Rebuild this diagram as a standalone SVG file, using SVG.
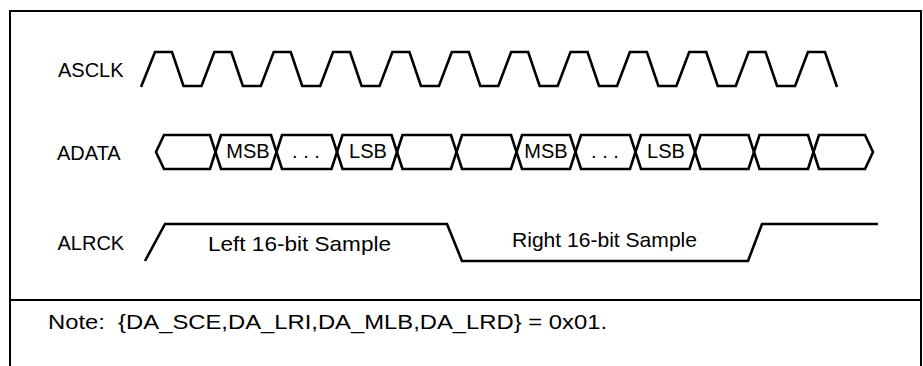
<svg xmlns="http://www.w3.org/2000/svg" width="923" height="366" viewBox="0 0 923 366">
<style>
.frame{fill:none;stroke:#000;stroke-width:2}
.wave{fill:none;stroke:#000;stroke-width:2.6;stroke-linejoin:miter;stroke-linecap:butt}
.lbl{font-family:"Liberation Sans",Arial,sans-serif;font-size:20px;fill:#000}
.cell{font-family:"Liberation Sans",Arial,sans-serif;font-size:20px;fill:#000;text-anchor:middle}
.smp{font-family:"Liberation Sans",Arial,sans-serif;font-size:21px;fill:#000}
.note{font-family:"Liberation Sans",Arial,sans-serif;font-size:20px;fill:#000}
</style>
<rect width="923" height="366" fill="#fff"/>
<g id="frame">
<path class="frame" d="M10,375 V11 H921 V375"/>
<line class="frame" x1="10" y1="300" x2="921" y2="300"/>
</g>
<g id="asclk">
<text class="lbl" x="58" y="77">ASCLK</text>
<path class="wave" d="M141,87 L155,52 L172,52 L183.5,86 L201.5,86 L214.36,52 L231.36,52 L242.86,86 L260.86,86 L273.72,52 L290.72,52 L302.22,86 L320.22,86 L333.08,52 L350.08,52 L361.58,86 L379.58,86 L392.44,52 L409.44,52 L420.94,86 L438.94,86 L451.8,52 L468.8,52 L480.3,86 L498.3,86 L511.16,52 L528.16,52 L539.66,86 L557.66,86 L570.52,52 L587.52,52 L599.02,86 L617.02,86 L629.88,52 L646.88,52 L658.38,86 L676.38,86 L689.24,52 L706.24,52 L717.74,86 L735.74,86 L748.6,52 L765.6,52 L777.1,86 L795.1,86 L807.96,52 L824.96,52 L837,87"/>
</g>
<g id="adata">
<text class="lbl" x="57" y="160">ADATA</text>
<polygon class="wave" points="156,152 164,135 210,135 215.5,152 210,169 164,169"/>
<polygon class="wave" points="215.5,152 221,135 271,135 276.5,152 271,169 221,169"/>
<polygon class="wave" points="276.5,152 282,135 331.5,135 337,152 331.5,169 282,169"/>
<polygon class="wave" points="337,152 342.5,135 391.5,135 397,152 391.5,169 342.5,169"/>
<polygon class="wave" points="397,152 402.5,135 451,135 456.5,152 451,169 402.5,169"/>
<polygon class="wave" points="456.5,152 462,135 511,135 516.5,152 511,169 462,169"/>
<polygon class="wave" points="516.5,152 522,135 570,135 575.5,152 570,169 522,169"/>
<polygon class="wave" points="575.5,152 581,135 630,135 635.5,152 630,169 581,169"/>
<polygon class="wave" points="635.5,152 641,135 689.5,135 695,152 689.5,169 641,169"/>
<polygon class="wave" points="695,152 700.5,135 748.5,135 754,152 748.5,169 700.5,169"/>
<polygon class="wave" points="754,152 759.5,135 808,135 813.5,152 808,169 759.5,169"/>
<polygon class="wave" points="813.5,152 819,135 865,135 873,152 865,169 819,169"/>
<text class="cell" x="248" y="158">MSB</text>
<text class="cell" x="306" y="158">. . .</text>
<text class="cell" x="368" y="158">LSB</text>
<text class="cell" x="546" y="158">MSB</text>
<text class="cell" x="605" y="158">. . .</text>
<text class="cell" x="666" y="158">LSB</text>
</g>
<g id="alrck">
<text class="lbl" x="57.5" y="250">ALRCK</text>
<path class="wave" d="M145,261 L165,224 L447,224 L462,261 L748,261 L762,224 L878,224"/>
<text class="smp" x="208" y="251" textLength="183" lengthAdjust="spacingAndGlyphs">Left 16-bit Sample</text>
<text class="smp" x="512" y="247" textLength="185" lengthAdjust="spacingAndGlyphs">Right 16-bit Sample</text>
</g>
<g id="note">
<text class="note" x="48" y="329" xml:space="preserve" textLength="559" lengthAdjust="spacingAndGlyphs">Note:  {DA_SCE,DA_LRI,DA_MLB,DA_LRD} = 0x01.</text>
</g>
</svg>
